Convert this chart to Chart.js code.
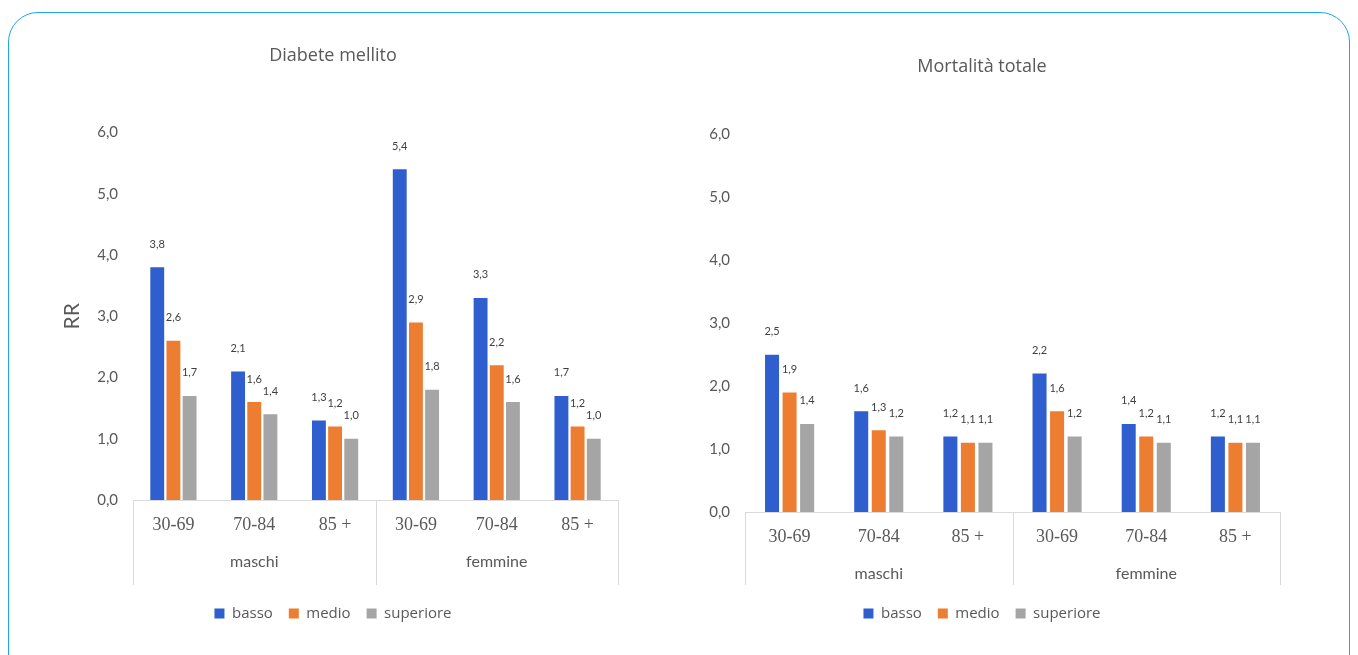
<!DOCTYPE html>
<html>
<head>
<meta charset="utf-8">
<script src="https://cdn.jsdelivr.net/npm/chart.js@4.4.0/dist/chart.umd.min.js"></script>
<style>
  html, body { margin: 0; padding: 0; background: #fff; }
  body { width: 1358px; height: 655px; position: relative; overflow: hidden; }
  .frame {
    position: absolute; left: 8px; top: 12px; width: 1342px; height: 700px;
    border: 1.5px solid #1aa8e0; border-radius: 30px; box-sizing: border-box;
  }
  .panel { position: absolute; }
  #left { left: 48px; top: 20px; width: 600px; height: 620px; }
  #right { left: 684px; top: 20px; width: 640px; height: 620px; }
</style>
</head>
<body>
<div class="frame"></div>
<div class="panel" id="left"><canvas id="diabeteChart"></canvas></div>
<div class="panel" id="right"><canvas id="mortalitaChart"></canvas></div>

<script>
const ageBands = ["30-69", "70-84", "85 +", "30-69", "70-84", "85 +"];
const sexGroups = ["maschi", "femmine"];
const seriesNames = ["basso", "medio", "superiore"];
const seriesColors = ["#2f5fcf", "#ed7d31", "#a5a5a5"];

const diabeteBasso = [3.8, 2.1, 1.3, 5.4, 3.3, 1.7];
const diabeteMedio = [2.6, 1.6, 1.2, 2.9, 2.2, 1.2];
const diabeteSuperiore = [1.7, 1.4, 1.0, 1.8, 1.6, 1.0];

const mortalitaBasso = [2.5, 1.6, 1.2, 2.2, 1.4, 1.2];
const mortalitaMedio = [1.9, 1.3, 1.1, 1.6, 1.2, 1.1];
const mortalitaSuperiore = [1.4, 1.2, 1.1, 1.2, 1.1, 1.1];

const yMin = 0;
const yMax = 6;
const yStep = 1;

const textColor = "#595959";
const sansFont = "Lato, 'Open Sans', sans-serif";
const headFont = "'Open Sans', Lato, sans-serif";

function formatRR(v) {
  return v.toFixed(1).replace(".", ",");
}

// value printed above every bar
const barValues = {
  id: "barValues",
  afterDatasetsDraw(chart) {
    const ctx = chart.ctx;
    ctx.save();
    ctx.fillStyle = "#404040";
    ctx.font = "11px " + sansFont;
    ctx.textAlign = "center";
    ctx.textBaseline = "middle";
    chart.data.datasets.forEach((ds, i) => {
      chart.getDatasetMeta(i).data.forEach((bar, j) => {
        ctx.fillText(formatRR(ds.data[j]), bar.x, bar.y - 23);
      });
    });
    ctx.restore();
  },
};

// second row of the category axis: maschi / femmine boxes
const groupAxis = {
  id: "groupAxis",
  afterDraw(chart, args, opts) {
    const { ctx, chartArea } = chart;
    const x = chart.scales.x;
    const y0 = chartArea.bottom;
    const mid = (x.getPixelForValue(2) + x.getPixelForValue(3)) / 2;
    const edges = [chartArea.left, mid, chartArea.right];
    ctx.save();
    ctx.strokeStyle = "#d9d9d9";
    ctx.lineWidth = 1;
    ctx.beginPath();
    ctx.moveTo(chartArea.left, Math.round(y0) + 0.5);
    ctx.lineTo(chartArea.right, Math.round(y0) + 0.5);
    edges.forEach((e) => {
      ctx.moveTo(Math.round(e) + 0.5, y0);
      ctx.lineTo(Math.round(e) + 0.5, y0 + opts.depth);
    });
    ctx.stroke();
    ctx.fillStyle = textColor;
    ctx.font = "16px " + sansFont;
    ctx.textAlign = "center";
    ctx.textBaseline = "middle";
    sexGroups.forEach((g, i) => {
      const cx = (x.getPixelForValue(i * 3) + x.getPixelForValue(i * 3 + 2)) / 2;
      ctx.fillText(g, cx, y0 + opts.labelOffset);
    });
    ctx.restore();
  },
};

function makeChart(canvasId, cfg) {
  const ctx = document.getElementById(canvasId).getContext("2d");
  return new Chart(ctx, {
    type: "bar",
    data: {
      labels: ageBands,
      datasets: cfg.series.map((values, i) => ({
        label: seriesNames[i],
        data: values,
        backgroundColor: seriesColors[i],
        borderWidth: 0,
        categoryPercentage: cfg.catPct,
        barPercentage: cfg.barPct,
      })),
    },
    options: {
      responsive: true,
      maintainAspectRatio: false,
      animation: false,
      layout: { padding: { left: 0, right: cfg.padRight, top: 0, bottom: 9 } },
      plugins: {
        title: {
          display: true,
          text: cfg.title,
          color: textColor,
          font: { family: headFont, size: 18, weight: "normal" },
          padding: { top: cfg.titleTop, bottom: cfg.titleBottom },
        },
        legend: {
          position: "bottom",
          labels: {
            boxWidth: 10,
            boxHeight: 10,
            padding: 16,
            color: textColor,
            font: { family: headFont, size: 15 },
          },
        },
        tooltip: { enabled: false },
        groupAxis: { depth: cfg.groupDepth, labelOffset: 62 },
      },
      scales: {
        x: {
          grid: { display: false, drawTicks: false },
          border: { display: false },
          ticks: {
            color: textColor,
            padding: 14,
            font: { family: "'Liberation Serif', serif", size: 18 },
          },
          afterFit(scale) {
            scale.height = cfg.xHeight;
          },
        },
        y: {
          min: yMin,
          max: yMax,
          grid: { display: false, drawTicks: false },
          border: { display: false },
          ticks: {
            stepSize: yStep,
            color: textColor,
            padding: 15,
            font: { family: sansFont, size: 15 },
            callback: (v) => formatRR(v),
          },
          title: {
            display: !!cfg.yTitle,
            text: cfg.yTitle,
            color: textColor,
            font: { family: sansFont, size: 21 },
            padding: { top: 12, bottom: 0 },
          },
          afterFit(scale) {
            scale.width = cfg.yWidth;
          },
        },
      },
    },
    plugins: [barValues, groupAxis],
  });
}

makeChart("diabeteChart", {
  title: "Diabete mellito",
  yTitle: "RR",
  series: [diabeteBasso, diabeteMedio, diabeteSuperiore],
  catPct: 0.6,
  barPct: 0.86,
  padRight: 30,
  titleTop: 25,
  titleBottom: 66,
  xHeight: 90,
  yWidth: 85,
  groupDepth: 85,
});

makeChart("mortalitaChart", {
  title: "Mortalità totale",
  yTitle: "",
  series: [mortalitaBasso, mortalitaMedio, mortalitaSuperiore],
  catPct: 0.59,
  barPct: 0.8,
  padRight: 44,
  titleTop: 36,
  titleBottom: 57,
  xHeight: 78,
  yWidth: 61,
  groupDepth: 73,
});
</script>
</body>
</html>
